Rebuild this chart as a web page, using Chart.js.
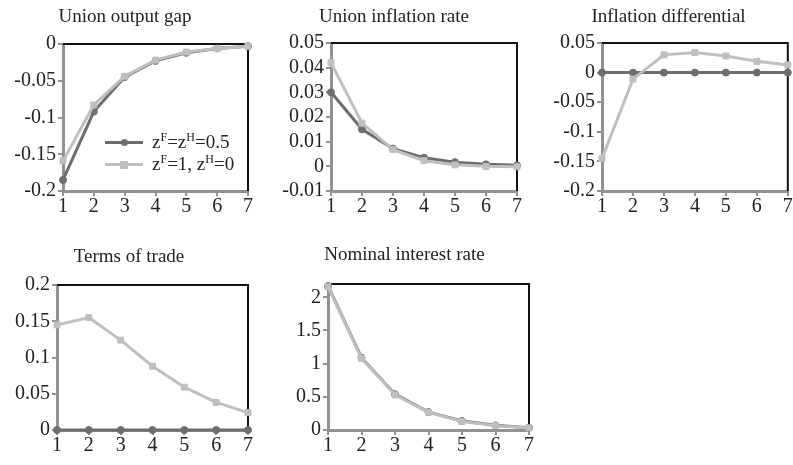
<!DOCTYPE html>
<html>
<head>
<meta charset="utf-8">
<script src="https://cdn.jsdelivr.net/npm/chart.js@4.4.1/dist/chart.umd.min.js"></script>
<style>
  html, body { margin: 0; padding: 0; background: #fff; }
  #wrap { position: relative; width: 793px; height: 465px; overflow: hidden; background: #fff; }
  #wrap canvas { position: absolute; }
  .leg { position: absolute; font-family: 'Liberation Serif', 'Times New Roman', serif; font-size: 19px; color: #222; line-height: 22px; white-space: nowrap; }
  .leg .row { position: relative; height: 22px; }
  .leg .ln { position: absolute; left: 0; top: 10px; width: 38px; height: 3px; }
  .leg .mk { position: absolute; }
  .leg .txt { position: absolute; left: 47px; top: 0; }
  .leg sup { font-size: 12px; vertical-align: 0; position: relative; top: -7px; }
</style>
</head>
<body>
<div id="wrap">
  <canvas id="c1" width="254" height="224" style="left:0px;top:0px"></canvas>
  <canvas id="c2" width="258" height="224" style="left:265px;top:0px"></canvas>
  <canvas id="c3" width="268" height="224" style="left:525px;top:0px"></canvas>
  <canvas id="c4" width="254" height="231" style="left:0px;top:232px"></canvas>
  <canvas id="c5" width="265" height="231" style="left:270px;top:232px"></canvas>
  <div class="leg" id="legend" style="left:105px;top:131px"></div>
</div>
<script>
// ---- data ----
const categories = ['1', '2', '3', '4', '5', '6', '7'];
const seriesLabels = ['z<sup>F</sup>=z<sup>H</sup>=0.5', 'z<sup>F</sup>=1, z<sup>H</sup>=0'];
const panelTitles = ['Union output gap', 'Union inflation rate', 'Inflation differential', 'Terms of trade', 'Nominal interest rate'];

const outputGapSym  = [-0.185, -0.092, -0.045, -0.023, -0.012, -0.006, -0.003];
const outputGapAsym = [-0.159, -0.083, -0.044, -0.022, -0.011, -0.006, -0.003];

const inflationSym  = [0.030, 0.015, 0.0072, 0.0035, 0.0017, 0.0008, 0.0004];
const inflationAsym = [0.042, 0.0175, 0.0068, 0.0023, 0.0006, 0.0000, -0.0002];

const diffSym  = [0, 0, 0, 0, 0, 0, 0];
const diffAsym = [-0.145, -0.011, 0.030, 0.034, 0.028, 0.019, 0.013];

const totSym  = [0, 0, 0, 0, 0, 0, 0];
const totAsym = [0.145, 0.155, 0.124, 0.088, 0.059, 0.038, 0.024];

const rateSym  = [2.17, 1.09, 0.54, 0.27, 0.136, 0.07, 0.035];
const rateAsym = [2.16, 1.08, 0.53, 0.265, 0.13, 0.065, 0.032];

const ticksOutputGap = [-0.2, -0.15, -0.1, -0.05, 0];
const ticksInflation = [-0.01, 0, 0.01, 0.02, 0.03, 0.04, 0.05];
const ticksDiff = [-0.2, -0.15, -0.1, -0.05, 0, 0.05];
const ticksTot = [0, 0.05, 0.1, 0.15, 0.2];
const ticksRate = [0, 0.5, 1, 1.5, 2];

// ---- styles ----
const DARK = '#6d6d6d';
const LIGHT = '#bfbfbf';
const AXIS = '#929292';
const FONT = "'Liberation Serif', 'Times New Roman', serif";

const framePlugin = {
  id: 'frame',
  beforeDatasetsDraw(chart) {
    const { ctx, chartArea: a } = chart;
    ctx.save();
    ctx.strokeStyle = '#111';
    ctx.lineWidth = 2;
    ctx.beginPath();
    ctx.moveTo(a.left, a.top);
    ctx.lineTo(a.right, a.top);
    ctx.lineTo(a.right, a.bottom);
    ctx.stroke();
    ctx.restore();
  }
};

function fmt(v) { return String(+(+v).toFixed(4)); }

function makePanel(id, title, symData, asymData, yTicks, yMin, yMax, lay) {
  new Chart(document.getElementById(id), {
    type: 'line',
    data: {
      labels: categories,
      datasets: [
        { label: 'sym', data: symData, borderColor: DARK, backgroundColor: DARK,
          pointBackgroundColor: DARK, pointBorderColor: DARK, borderWidth: 3,
          pointStyle: 'circle', pointRadius: 3.5, pointBorderWidth: 1, order: 1, clip: false, tension: 0 },
        { label: 'asym', data: asymData, borderColor: LIGHT, backgroundColor: LIGHT,
          pointBackgroundColor: LIGHT, pointBorderColor: LIGHT, borderWidth: 3,
          pointStyle: 'rect', pointRadius: 4.2, pointBorderWidth: 1, order: 0, clip: false, tension: 0 }
      ]
    },
    options: {
      responsive: false,
      animation: false,
      devicePixelRatio: 1,
      events: [],
      layout: { padding: { left: lay.padL, right: lay.padR, top: 0, bottom: 4 } },
      plugins: {
        legend: { display: false },
        tooltip: { enabled: false },
        title: {
          display: true, text: title, color: '#222',
          font: { family: FONT, size: 19, weight: 'normal', lineHeight: 1.2 },
          padding: { top: lay.tp, bottom: lay.tb }
        }
      },
      scales: {
        x: {
          type: 'category',
          offset: false,
          afterFit(s) { s.height = 29; },
          grid: { display: true, drawOnChartArea: false, drawTicks: true, tickLength: 5, tickColor: AXIS, lineWidth: 2 },
          border: { display: true, color: AXIS, width: 3 },
          ticks: { color: '#222', font: { family: FONT, size: 20, lineHeight: 1.1 }, padding: 0, maxRotation: 0, autoSkip: false }
        },
        y: {
          min: yMin, max: yMax,
          afterFit(s) { s.width = lay.yW; },
          afterBuildTicks(s) { s.ticks = yTicks.map(v => ({ value: v })); },
          grid: { display: true, drawOnChartArea: false, drawTicks: true, tickLength: 5, tickColor: AXIS, lineWidth: 2 },
          border: { display: true, color: AXIS, width: 3 },
          ticks: { color: '#222', font: { family: FONT, size: 20, lineHeight: 1 }, padding: 2, autoSkip: false, callback: (v) => fmt(v) }
        }
      }
    },
    plugins: [framePlugin]
  });
}

makePanel('c1', panelTitles[0], outputGapSym, outputGapAsym, ticksOutputGap, -0.2, 0,
  { padL: 2, padR: 6, yW: 61, tp: 5.6, tb: 15.6 });
makePanel('c2', panelTitles[1], inflationSym, inflationAsym, ticksInflation, -0.01, 0.05,
  { padL: 6, padR: 6, yW: 60, tp: 5.6, tb: 14.6 });
makePanel('c3', panelTitles[2], diffSym, diffAsym, ticksDiff, -0.2, 0.05,
  { padL: 24, padR: 5, yW: 53, tp: 5.6, tb: 14.6 });
makePanel('c4', panelTitles[3], totSym, totAsym, ticksTot, 0, 0.2,
  { padL: 10, padR: 6, yW: 47, tp: 13.6, tb: 16.6 });
makePanel('c5', panelTitles[4], rateSym, rateAsym, ticksRate, 0, 2.2,
  { padL: 10, padR: 6, yW: 48, tp: 11.6, tb: 17.6 });

// ---- legend (panel 1) ----
const legendColors = [DARK, LIGHT];
const legendShapes = ['circle', 'rect'];
const leg = document.getElementById('legend');
seriesLabels.forEach((lbl, i) => {
  const row = document.createElement('div');
  row.className = 'row';
  const ln = document.createElement('div');
  ln.className = 'ln'; ln.style.background = legendColors[i];
  const mk = document.createElement('div');
  mk.className = 'mk';
  mk.style.background = legendColors[i];
  if (legendShapes[i] === 'circle') {
    mk.style.width = '7px'; mk.style.height = '7px'; mk.style.borderRadius = '50%';
    mk.style.left = '16px'; mk.style.top = '8px';
  } else {
    mk.style.width = '8px'; mk.style.height = '8px';
    mk.style.left = '15px'; mk.style.top = '7.5px';
  }
  const tx = document.createElement('span');
  tx.className = 'txt'; tx.innerHTML = lbl;
  row.appendChild(ln); row.appendChild(mk); row.appendChild(tx);
  leg.appendChild(row);
});
</script>
</body>
</html>
